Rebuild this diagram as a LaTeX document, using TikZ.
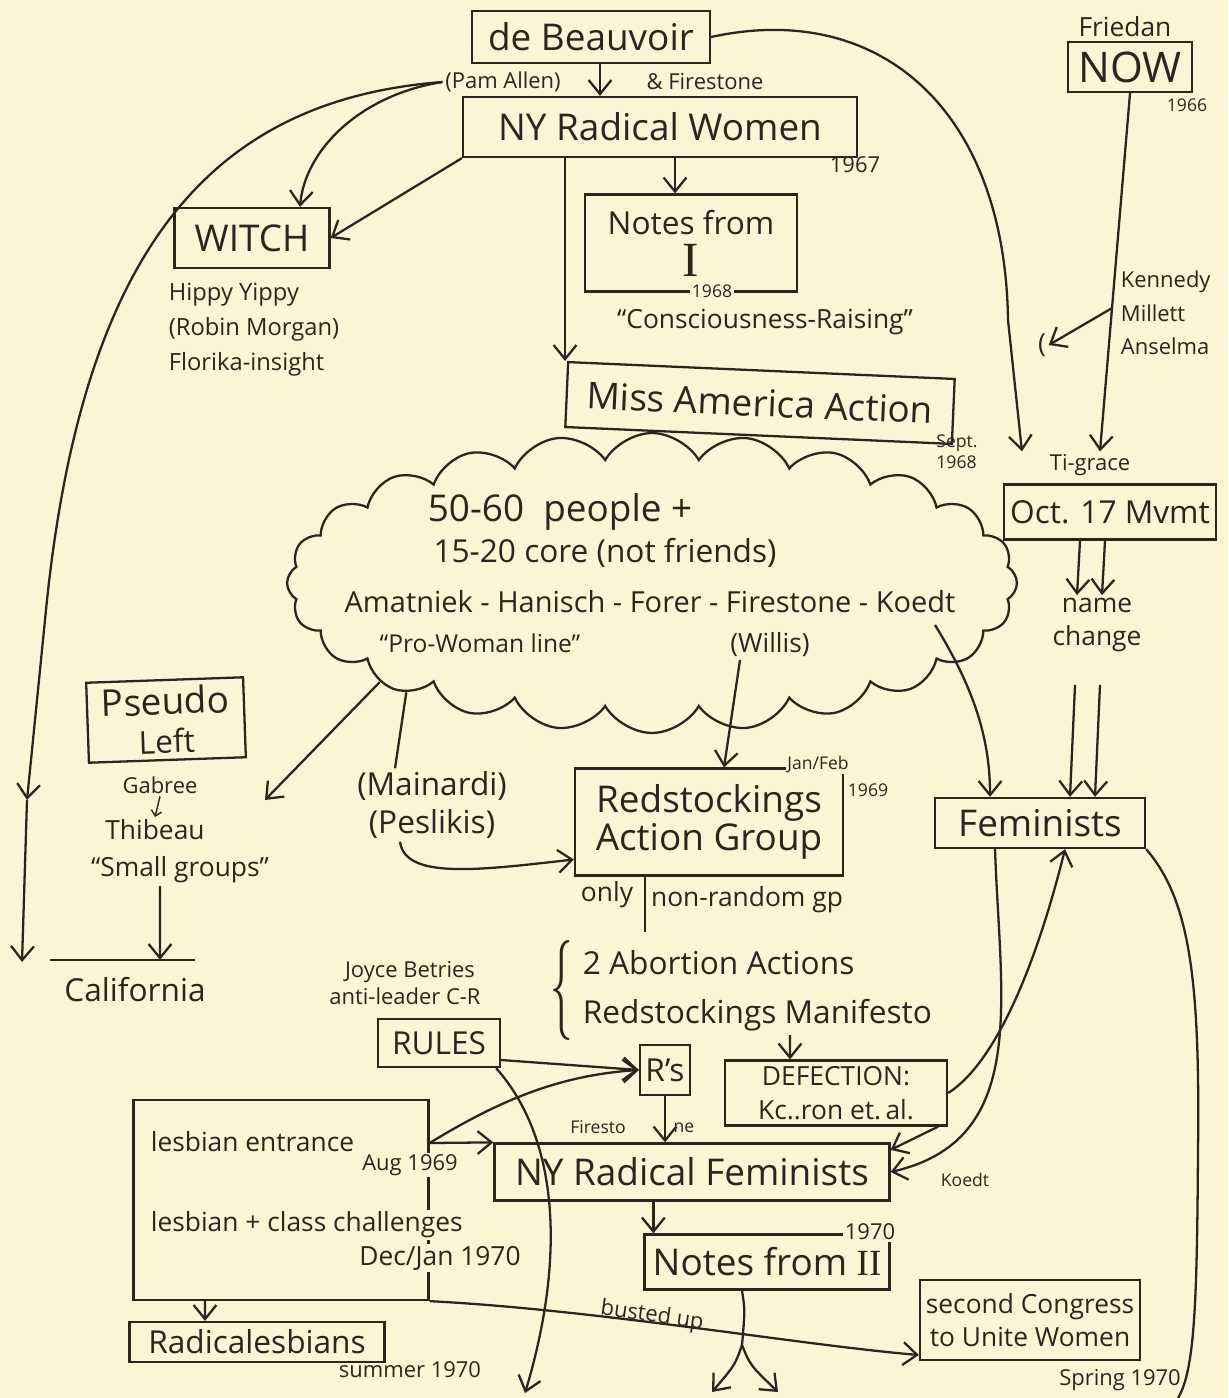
\documentclass[tikz,border=0pt]{standalone}
\usepackage{fontspec}
\usepackage{graphicx}
\setmainfont{Open Sans}
\newfontfamily\numf{Liberation Serif}
\usetikzlibrary{shapes}
\usetikzlibrary{arrows.meta}

\definecolor{paper}{HTML}{FBF5D6}
\definecolor{ink}{HTML}{2E241E}

\newcommand{\hugef}{\fontsize{21}{26}\selectfont}
\newcommand{\bigf}{\fontsize{18}{22}\selectfont}
\newcommand{\midf}{\fontsize{15}{19}\selectfont}
\newcommand{\smallf}{\fontsize{12.5}{19}\selectfont}
\newcommand{\tinyf}{\fontsize{10}{12}\selectfont}

\begin{document}
\begin{tikzpicture}[x=0.02cm, y=-0.02cm, ink, line width=1.3pt,
  box/.style={draw, inner sep=0pt},
  arr/.style={-{Straight Barb[length=8pt,width=13pt]}},
  txt/.style={inner sep=1pt}]
\path[use as bounding box, fill=paper] (0,0) rectangle (1228,1398);

\node[box, minimum width=4.76cm, minimum height=1.04cm] (beau) at (591,37) {\hugef de Beauvoir};
\node[txt] (pam) at (503,82) {\smallf (Pam Allen)};
\node[txt] (fire) at (705,82) {\smallf \& Firestone};
\node[box, minimum width=7.88cm, minimum height=1.2cm] (nyrw) at (660,127) {\hugef NY Radical Women};
\node[txt] (y67) at (855,165) {\smallf 1967};
\node[box, minimum width=3.1cm, minimum height=1.2cm] (witch) at (252,238) {\hugef WITCH};
\node[txt, anchor=north west, align=left, font=\fontsize{13.5}{20}\selectfont] (hippy) at (166,280) {Hippy Yippy\\(Robin Morgan)\\Florika-insight};
\node[box, minimum width=4.24cm, minimum height=1.94cm, align=center, font=\bigf] (notes1) at (691,243) {Notes from\\[2pt]{\numf\fontsize{28}{28}\selectfont I}};
\node[txt, fill=paper] (y68) at (712,291) {\tinyf 1968};
\node[txt] (consc) at (765,322) {\midf “Consciousness-Raising”};
\node[box, rotate=-2.5, minimum width=7.74cm, minimum height=1.3cm] (missam) at (760,403) {\hugef Miss America Action};
\node[txt, align=left, font=\tinyf] (sept) at (957,452) {Sept.\\1968};

\node[txt] (friedan) at (1125,27) {\midf Friedan};
\node[box, minimum width=2.48cm, minimum height=1cm] (now) at (1130,67) {\fontsize{24}{26}\selectfont NOW};
\node[txt] (y66) at (1187,105) {\tinyf 1966};
\node[txt, anchor=west, align=left, font=\smallf] (kenn) at (1118,313) {Kennedy\\Millett\\Anselma};
\node[txt] (paren) at (1042,345) {\midf (};
\node[txt] (tig) at (1090,465) {\smallf Ti-grace};
\node[box, minimum width=4.24cm, minimum height=1.1cm] (oct) at (1110,512) {\bigf Oct. 17 Mvmt};
\node[txt, align=center, font=\midf] (namechg) at (1097,625) {name\\change};
\node[box, minimum width=4.2cm, minimum height=1cm] (fem) at (1040,823) {\hugef Feminists};

\node[cloud, draw, cloud puffs=24, cloud puff arc=120, cloud ignores aspect,
  minimum width=14.6cm, minimum height=6cm] (cld) at (652,583) {};
\node[txt] (c1) at (560,512) {\hugef 50-60 \ people +};
\node[txt] (c2) at (605,553) {\bigf 15-20 core (not friends)};
\node[txt] (c3) at (650,602) {\fontsize{16.5}{20}\selectfont Amatniek - Hanisch - Forer - Firestone - Koedt};
\node[txt] (c4) at (480,643) {\fontsize{14}{17}\selectfont “Pro-Woman line”};
\node[txt] (willis) at (770,645) {\midf (Willis)};

\node[box, rotate=2, minimum width=3.14cm, minimum height=1.6cm, align=center, font=\bigf] (pseudo) at (166,720) {{\hugef Pseudo}\\Left};
\node[txt] (gabree) at (160,785) {\smallf Gabree};
\node[txt] (thib) at (155,830) {\midf Thibeau};
\node[txt] (sgroups) at (180,870) {\midf “Small groups”};
\node[txt] (calif) at (135,990) {\bigf California};

\node[txt, align=center, font=\bigf] (main) at (432,805) {(Mainardi)\\(Peslikis)};
\node[box, minimum width=5.36cm, minimum height=2.14cm, align=center, font=\fontsize{21}{22}\selectfont] (redst) at (709,822) {Redstockings\\Action Group};
\node[txt, fill=paper] (janfeb) at (818,764) {\tinyf Jan/Feb};
\node[txt] (y69) at (868,790) {\tinyf 1969};
\node[txt] (only) at (607,895) {\midf only};
\node[txt] (nonr) at (747,900) {\midf non-random gp};
\node[txt, inner sep=0pt] (brace) at (562,990) {\resizebox{0.45cm}{1.5cm}{$\{$}};
\node[txt, anchor=west] (abort) at (580,963) {\bigf 2 Abortion Actions};
\node[txt, anchor=west] (manif) at (580,1015) {\bigf Redstockings Manifesto};
\node[txt] (joyce) at (410,972) {\smallf Joyce Betries};
\node[txt] (antil) at (405,996) {\smallf anti-leader C-R};
\node[box, minimum width=2.44cm, minimum height=0.96cm] (rules) at (439,1043) {\bigf RULES};
\node[box, minimum size=1cm] (rs) at (665,1070) {\bigf R's};
\node[box, minimum width=4.44cm, minimum height=1.3cm, align=center, font=\midf] (defect) at (836,1093) {DEFECTION:\\Kc..ron et.\,al.};

\node[box, minimum width=5.9cm, minimum height=4cm] (lesb) at (281,1200) {};
\node[txt, anchor=west] (lent) at (148,1142) {\midf lesbian entrance};
\node[txt, fill=paper] (aug) at (410,1165) {\smallf Aug 1969};
\node[txt, anchor=west, fill=paper] (lcls) at (148,1225) {\midf lesbian + class challenges};
\node[txt, fill=paper] (decjan) at (440,1258) {\midf Dec/Jan 1970};
\node[box, minimum width=7.9cm, minimum height=1.14cm] (nyrf) at (692,1172) {\hugef NY Radical Feminists};
\node[txt] (fsa) at (598,1127) {\tinyf Firesto};
\node[txt] (fsb) at (684,1128) {\tinyf ne};
\node[txt] (koedt) at (965,1180) {\tinyf Koedt};
\node[box, minimum width=4.9cm, minimum height=1.1cm] (notes2) at (767,1262) {\hugef Notes from {\numf II}};
\node[txt, fill=paper] (y70) at (870,1232) {\smallf 1970};
\node[box, minimum width=5.1cm, minimum height=0.8cm] (radles) at (257,1342) {\bigf Radicalesbians};
\node[txt] (summer) at (410,1370) {\smallf summer 1970};
\node[box, minimum width=4.4cm, minimum height=1.6cm, align=center, font=\midf] (cong) at (1030,1320) {second Congress\\to Unite Women};
\node[txt] (spring) at (1120,1380) {\smallf Spring 1970};
\node[txt, rotate=-8] (busted) at (652,1316) {\smallf busted up};

\coordinate (bs) at ([xshift=0.18cm]beau.south);
\draw[arr] (bs) -- (bs |- nyrw.north);
\draw[arr] (beau.east) .. controls (880,0) and (1005,110) .. (1008,320) -- ([xshift=-0.5cm]tig.north west);
\draw[arr] (pam.west) .. controls (360,95) and (305,150) .. ([xshift=0.96cm]witch.north);
\coordinate (lmid) at (27,800);
\coordinate (lbot) at (22,962);
\draw[arr] (pam.west) .. controls (210,100) and (80,250) .. (45,620) -- (lmid);
\draw[arr] (lmid) -- (lbot);
\draw[arr] (nyrw.south west) -- (witch.east);
\coordinate (n1) at ([xshift=-0.32cm]notes1.north);
\draw[arr] (n1 |- nyrw.south) -- (n1);
\coordinate (nw1) at ([xshift=-1.9cm]nyrw.south);
\draw[arr] (nw1) -- (nw1 |- missam.north west);

\draw[arr] (now.south) -- coordinate[pos=0.6] (kb) ([xshift=0.2cm]tig.north);
\draw[arr] (kb) -- (paren.east);
\draw[arr] ([xshift=-0.6cm]oct.south) -- ([xshift=-0.4cm]namechg.north);
\draw[arr] ([xshift=-0.1cm]oct.south) -- ([xshift=0.1cm]namechg.north);
\draw[arr] ([xshift=-0.44cm, yshift=-0.6cm]namechg.south) -- ([xshift=0.6cm]fem.north);
\draw[arr] ([xshift=0.06cm, yshift=-0.6cm]namechg.south) -- ([xshift=1.1cm]fem.north);

\coordinate (ck) at (935,625);
\draw[arr] (ck) .. controls (975,690) and (990,740) .. ([xshift=-1cm]fem.north);
\draw[arr] ([xshift=-0.9cm]fem.south) .. controls (1000,1000) and (1030,1140) .. (nyrf.east);
\draw[arr] (defect.east) .. controls (1000,1060) and (1040,950) .. ([xshift=0.5cm]fem.south);
\coordinate (rbot) at (1178,1398);
\draw (fem.south east) .. controls (1190,900) and (1200,980) .. (1198,1150) .. controls (1197,1300) and (1195,1370) .. (rbot);

\coordinate (pl) at (265,800);
\draw[arr] (cld.200) -- (pl);
\draw (cld.204) -- ([xshift=-0.74cm]main.north);
\draw[arr] ([xshift=-0.64cm]main.south) .. controls (405,880) and (480,870) .. ([yshift=-0.75cm]redst.west);
\draw[arr] ([xshift=-0.6cm]willis.south) -- ([xshift=0.3cm]redst.north);
\draw ([xshift=-1.28cm]redst.south) -- ++(0,55);

\draw[-{Straight Barb[length=3pt,width=6pt]}, line width=0.8pt] (gabree.south) -- (thib.north);
\draw ([xshift=-1.7cm, yshift=0.3cm]calif.north) -- ([xshift=1.2cm, yshift=0.3cm]calif.north);
\draw[arr] ([xshift=-0.4cm]sgroups.south) -- ([xshift=0.5cm, yshift=0.3cm]calif.north);

\draw[arr] ([xshift=4.2cm, yshift=-0.4cm]manif.west) -- ([xshift=-0.92cm]defect.north);
\draw[arr] ([yshift=-0.34cm]rules.east) -- (rs.west);
\coordinate (lx) at ([yshift=1.14cm]lesb.east);
\draw[arr] (lx) .. controls (500,1100) and (560,1075) .. (rs.west);
\draw[arr] (lx) -- (nyrf.north west);
\draw[arr] (rs.south) -- (rs.south |- nyrf.north);
\draw[arr] ([xshift=-0.2cm]defect.south east) -- ([yshift=-0.15cm]nyrf.north east);
\coordinate (rb) at (525,1393);
\draw[arr] ([xshift=-0.1cm]rules.south east) .. controls (560,1140) and (565,1260) .. (rb);
\coordinate (nf2) at ([xshift=0.2cm]notes2.north west);
\draw[arr] (nf2 |- nyrf.south) -- (nf2);
\coordinate (sp) at (742,1345);
\coordinate (sl) at (712,1392);
\coordinate (sr) at (778,1392);
\draw ([xshift=-0.5cm]notes2.south) .. controls (745,1310) .. (sp);
\draw[arr] (sp) .. controls (735,1365) .. (sl);
\draw[arr] (sp) .. controls (750,1365) .. (sr);
\draw[arr] (lesb.south east) .. controls (600,1310) and (800,1345) .. ([yshift=-0.7cm]cong.west);
\draw[arr] ([xshift=-1.52cm]lesb.south) -- ([xshift=-1.04cm]radles.north);
\end{tikzpicture}
\end{document}
